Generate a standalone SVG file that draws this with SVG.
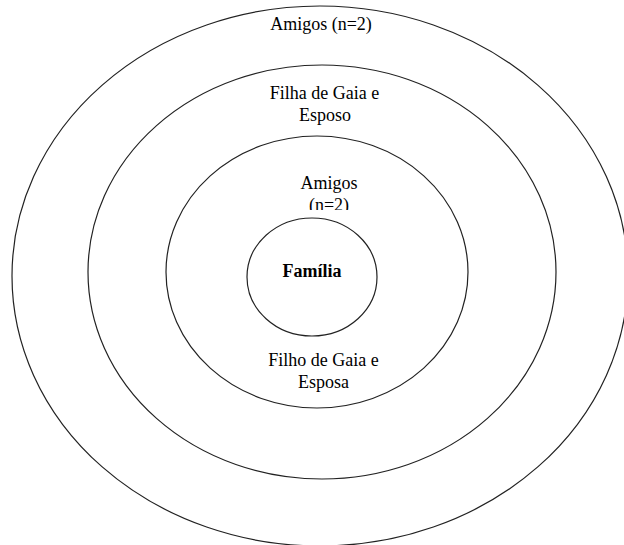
<svg xmlns="http://www.w3.org/2000/svg" width="624" height="545" viewBox="0 0 624 545">
<style>
.ring{fill:none;stroke:#222;stroke-width:1.2}
.t{font-family:'Liberation Serif','Times New Roman','DejaVu Serif',serif;font-size:18px;fill:#000;text-anchor:middle}
.b{font-weight:bold}
</style>
<defs>
<clipPath id="clipAmigos"><rect x="280" y="170" width="100" height="40"/></clipPath>
</defs>
<rect width="624" height="545" fill="#fff"/>
<g id="ring-outer">
<ellipse class="ring" cx="320" cy="276" rx="308" ry="270"/>
<text class="t" x="321" y="30">Amigos (n=2)</text>
</g>
<g id="ring-second">
<ellipse class="ring" cx="322" cy="272" rx="234" ry="207"/>
<text class="t" x="324.5" y="99">Filha de Gaia e</text>
<text class="t" x="325" y="121">Esposo</text>
</g>
<g id="ring-third">
<ellipse class="ring" cx="317" cy="272" rx="151" ry="136"/>
<g clip-path="url(#clipAmigos)">
<text class="t" x="329" y="189">Amigos</text>
<text class="t" x="329" y="211">(n=2)</text>
</g>
<text class="t" x="323.5" y="366">Filho de Gaia e</text>
<text class="t" x="323.5" y="388">Esposa</text>
</g>
<g id="familia">
<ellipse class="ring" cx="312" cy="277" rx="65" ry="59"/>
<text class="t b" x="312" y="277">Família</text>
</g>
<g id="connectors"/>
</svg>
